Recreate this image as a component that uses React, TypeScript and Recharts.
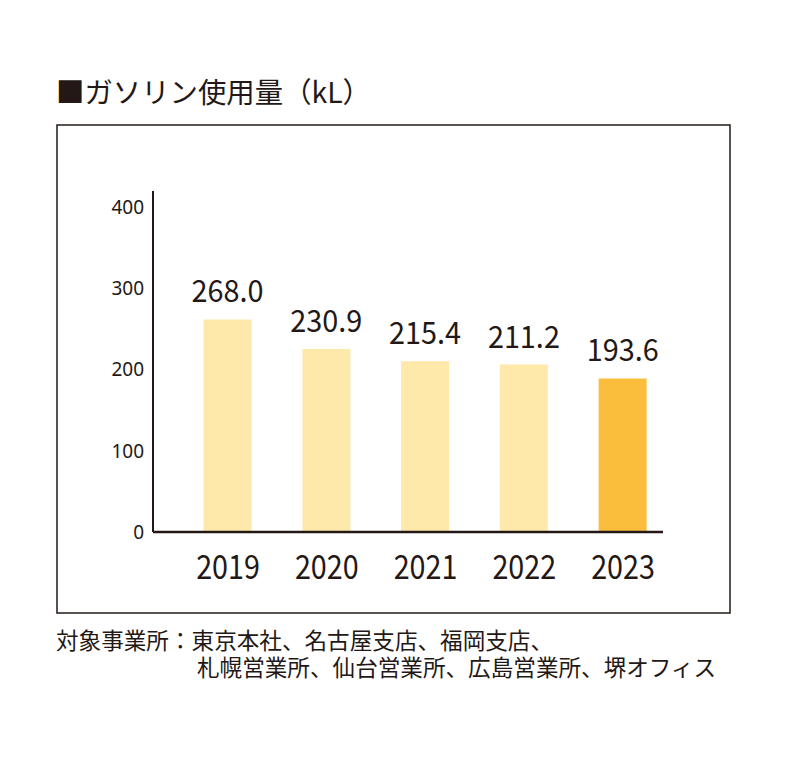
import React from 'react';
import { BarChart, Bar, XAxis, YAxis, Cell, LabelList } from 'recharts';

const years = ['2019', '2020', '2021', '2022', '2023'];
const gasoline = [268.0, 230.9, 215.4, 211.2, 193.6];
const yTicks = [0, 100, 200, 300, 400];
const title = '■ガソリン使用量（kL）';
const noteLines = [
  '対象事業所：東京本社、名古屋支店、福岡支店、',
  '札幌営業所、仙台営業所、広島営業所、堺オフィス',
];

const INK = '#231815';
const BAR_LIGHT = '#FEE8AA';
const BAR_HIGHLIGHT = '#FABE3C';
const JP = '"Noto Sans CJK JP", "Noto Sans", sans-serif';

const chartData = years.map((year, i) => ({ year, value: gasoline[i] }));

// condensed look of the original digits
const YearTick = ({ x, y, payload }: any) => (
  <g transform={`translate(${x},${y})`}>
    <text transform="scale(0.87,1)" x={0} y={47} textAnchor="middle" fontFamily={JP} fontSize={33} fill={INK}>
      {payload.value}
    </text>
  </g>
);

const ValueLabel = ({ x, y, width, value }: any) => (
  <g transform={`translate(${x + width / 2},${y - 17})`}>
    <text transform="scale(0.93,1)" x={0} y={0} textAnchor="middle" fontFamily={JP} fontSize={31} fill={INK}>
      {Number(value).toFixed(1)}
    </text>
  </g>
);

export default function App() {
  return (
    <div style={{ position: 'absolute', left: 0, top: 0, width: 800, height: 759, background: '#fff' }}>
      <svg
        width={800}
        height={759}
        style={{ position: 'absolute', left: 0, top: 0, pointerEvents: 'none' }}
      >
        <text x={56} y={103} fontFamily={JP} fontSize={28.4} fill={INK}>
          {title}
        </text>
        <rect x={57} y={125} width={673} height={488} fill="none" stroke={INK} strokeWidth={1.5} />
        {/* two-line footnote, second line hangs under the list */}
        <text fontFamily={JP} fontSize={22.6} fill={INK}>
          <tspan x={56} y={649}>{noteLines[0]}</tspan>
          <tspan x={197} y={676}>{noteLines[1]}</tspan>
        </text>
      </svg>
      <div style={{ position: 'absolute', left: 0, top: 0 }}>
        <BarChart
          width={800}
          height={759}
          data={chartData}
          margin={{ top: 191, right: 137, bottom: 177, left: 93 }}
        >
          <XAxis
            dataKey="year"
            height={50}
            padding={{ left: 25.6, right: -9.4 }}
            tickLine={false}
            tickSize={0}
            tickMargin={0}
            axisLine={{ stroke: INK, strokeWidth: 2.6 }}
            tick={<YearTick />}
            interval={0}
          />
          <YAxis
            yAxisId="scale"
            width={60}
            domain={[0, 420]}
            ticks={yTicks}
            tickLine={false}
            tickSize={0}
            tickMargin={9}
            axisLine={{ stroke: INK, strokeWidth: 2 }}
            tick={{ fill: INK, fontSize: 19, fontFamily: '"Noto Sans", sans-serif' }}
            allowDataOverflow
          />
          <YAxis yAxisId="bars" orientation="right" width={0} hide domain={[0, 430]} allowDataOverflow />
          <Bar yAxisId="bars" dataKey="value" barSize={48} isAnimationActive={false}>
            {chartData.map((d, i) => (
              <Cell key={d.year} fill={i === chartData.length - 1 ? BAR_HIGHLIGHT : BAR_LIGHT} />
            ))}
            <LabelList dataKey="value" content={<ValueLabel />} />
          </Bar>
        </BarChart>
      </div>
    </div>
  );
}
